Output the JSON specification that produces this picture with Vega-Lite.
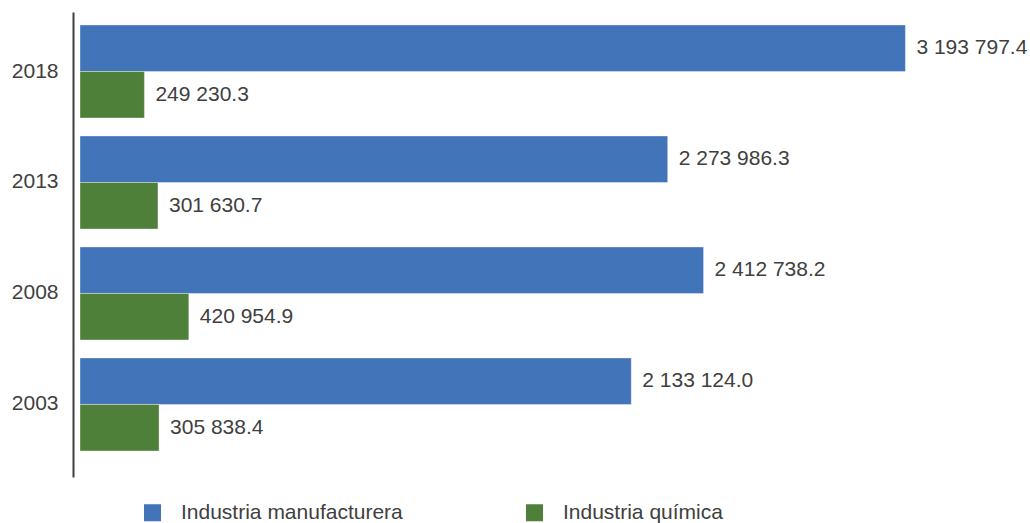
{
  "$schema": "https://vega.github.io/schema/vega-lite/v6.json",
  "autosize": "none",
  "padding": {"left": 80, "top": 12, "right": 123, "bottom": 46},
  "width": 827,
  "height": 465,
  "background": "white",
  "data": {
    "values": [
      {"year": "2018", "serie": "Industria manufacturera", "value": 3193797.4},
      {"year": "2018", "serie": "Industria química", "value": 249230.3},
      {"year": "2013", "serie": "Industria manufacturera", "value": 2273986.3},
      {"year": "2013", "serie": "Industria química", "value": 301630.7},
      {"year": "2008", "serie": "Industria manufacturera", "value": 2412738.2},
      {"year": "2008", "serie": "Industria química", "value": 420954.9},
      {"year": "2003", "serie": "Industria manufacturera", "value": 2133124.0},
      {"year": "2003", "serie": "Industria química", "value": 305838.4}
    ]
  },
  "encoding": {
    "y": {
      "field": "year", "type": "nominal",
      "sort": ["2018", "2013", "2008", "2003"],
      "scale": {"paddingInner": 0.162, "paddingOuter": 0.176, "align": 0.333},
      "axis": {
        "title": null, "offset": 7, "ticks": false, "labelPadding": 15,
        "domainColor": "#404040", "domainWidth": 2,
        "labelFont": "Liberation Sans", "labelFontSize": 21, "labelColor": "#404040"
      }
    },
    "yOffset": {
      "field": "serie", "type": "nominal",
      "sort": ["Industria manufacturera", "Industria química"],
      "scale": {"paddingInner": 0, "paddingOuter": 0}
    },
    "x": {
      "field": "value", "type": "quantitative",
      "scale": {"domain": [0, 3200000], "nice": false},
      "axis": null
    }
  },
  "layer": [
    {
      "mark": {"type": "bar", "stroke": "white", "strokeWidth": 0.7, "strokeOpacity": 0.5},
      "encoding": {
        "color": {
          "field": "serie", "type": "nominal",
          "scale": {"domain": ["Industria manufacturera", "Industria química"], "range": ["#4274B9", "#4E803A"]},
          "legend": {
            "title": null, "orient": "none", "direction": "horizontal",
            "legendX": 62, "legendY": 490, "padding": 0,
            "symbolType": "square", "symbolSize": 289, "symbolStrokeWidth": 0,
            "labelOffset": 18, "columnPadding": 121, "labelLimit": 500,
            "labelFont": "Liberation Sans", "labelFontSize": 21, "labelColor": "#404040"
          }
        }
      }
    },
    {
      "mark": {"type": "text", "align": "left", "baseline": "middle", "dx": 11, "font": "Liberation Sans", "fontSize": 21, "color": "#404040"},
      "encoding": {
        "text": {"field": "value", "type": "quantitative", "format": ",.1f"}
      }
    }
  ],
  "config": {
    "view": {"stroke": null},
    "locale": {"number": {"decimal": ".", "thousands": " ", "grouping": [3], "currency": ["", ""]}}
  }
}
